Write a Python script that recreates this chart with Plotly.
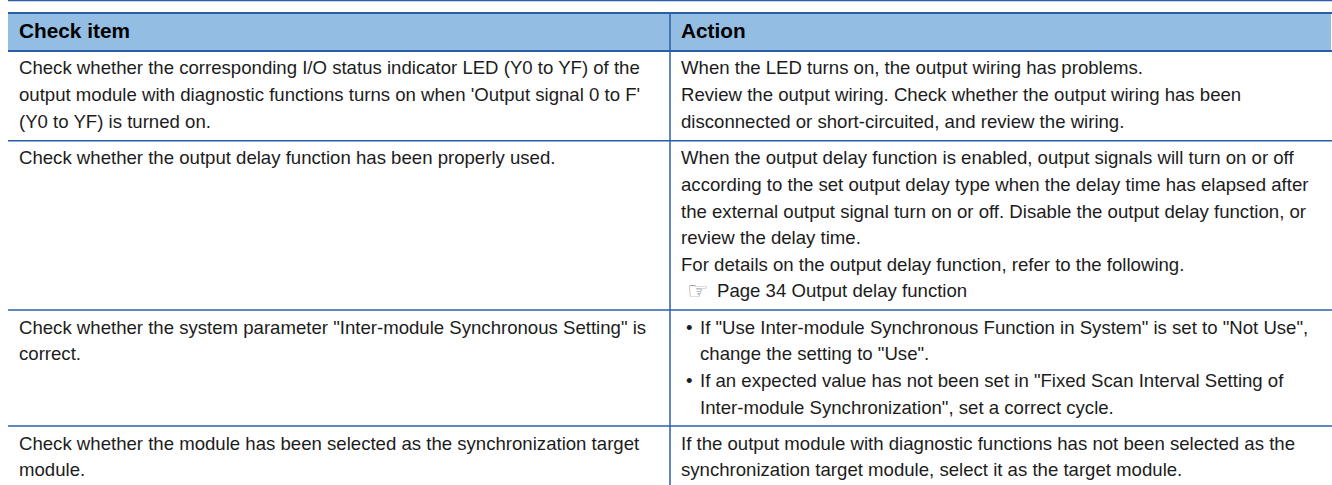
import plotly.graph_objects as go

W, H = 1332, 485

# ---- table content ----
headers = ["Check item", "Action"]
check_items = [
    ["Check whether the corresponding I/O status indicator LED (Y0 to YF) of the",
     "output module with diagnostic functions turns on when 'Output signal 0 to F'",
     "(Y0 to YF) is turned on."],
    ["Check whether the output delay function has been properly used."],
    ["Check whether the system parameter \"Inter-module Synchronous Setting\" is",
     "correct."],
    ["Check whether the module has been selected as the synchronization target",
     "module."],
]
actions = [
    ["When the LED turns on, the output wiring has problems.",
     "Review the output wiring. Check whether the output wiring has been",
     "disconnected or short-circuited, and review the wiring."],
    ["When the output delay function is enabled, output signals will turn on or off",
     "according to the set output delay type when the delay time has elapsed after",
     "the external output signal turn on or off. Disable the output delay function, or",
     "review the delay time.",
     "For details on the output delay function, refer to the following."],
    [],
    ["If the output module with diagnostic functions has not been selected as the",
     "synchronization target module, select it as the target module."],
]
link_text = "Page 34 Output delay function"
bullets = [
    ["If \"Use Inter-module Synchronous Function in System\" is set to \"Not Use\",",
     "change the setting to \"Use\"."],
    ["If an expected value has not been set in \"Fixed Scan Interval Setting of",
     "Inter-module Synchronization\", set a correct cycle."],
]

# ---- geometry & style ----
BLUE, HEAD, INK, GREY = "#2b5ea8", "#93bde3", "#1c1c1c", "#8a8a8a"
FONT = "Liberation Sans"
SIZE = 18.6
LEAD = 26.6
X_L, X_D, X_R = 8, 670, 1331
X1, X2 = 19, 680.5
row_tops = [50.7, 140.7, 310, 426]
first_text_offset = 17.2

fig = go.Figure()
fig.update_layout(
    width=W, height=H, margin=dict(l=0, r=0, t=0, b=0),
    xaxis=dict(range=[0, W], visible=False, fixedrange=True),
    yaxis=dict(range=[H, 0], visible=False, fixedrange=True),
    paper_bgcolor="white", plot_bgcolor="white", showlegend=False,
)
fig.add_trace(go.Scatter(x=[0], y=[0], mode="markers", marker=dict(opacity=0), hoverinfo="skip"))


def rule(x0, y0, x1, y1, width):
    fig.add_shape(type="line", x0=x0, y0=y0, x1=x1, y1=y1, line=dict(color=BLUE, width=width))


def text(x, y, s, bold=False, color=INK, size=SIZE, family=FONT):
    fig.add_annotation(x=x, y=y, text=f"<b>{s}</b>" if bold else s, showarrow=False,
                       xanchor="left", yanchor="middle", align="left",
                       borderpad=0, borderwidth=0,
                       font=dict(family=family, size=size, color=color))


# header band
fig.add_shape(type="rect", x0=X_L, x1=X_R, y0=12.7, y1=50.7, fillcolor=HEAD, line_width=0, layer="below")
rule(X_L, 0.5, W, 0.5, 1.3)
rule(X_L, 13, W, 13, 2)
rule(X_L, 51, W, 51, 2)
for y in row_tops[1:]:
    rule(X_L, y, W, y, 1.5)
rule(X_D, 13, X_D, H, 1.5)

text(X1, 30, headers[0], bold=True, size=20.8, color="#000000")
text(X2, 30, headers[1], bold=True, size=20.8, color="#000000")

for top, lines in zip(row_tops, check_items):
    for i, s in enumerate(lines):
        text(X1, top + first_text_offset + i * LEAD, s)

for top, lines in zip(row_tops, actions):
    for i, s in enumerate(lines):
        text(X2, top + first_text_offset + i * LEAD, s)

# cross-reference line (row 2, sixth line)
y_link = row_tops[1] + first_text_offset + 5 * LEAD
text(687, y_link + 0.5, "\u261e", color=GREY, size=24, family="DejaVu Sans")
text(717, y_link, link_text)

# bulleted row
for b, block in enumerate(bullets):
    y0 = row_tops[2] + first_text_offset + b * 2 * LEAD
    text(686, y0, "\u2022", size=SIZE)
    for i, s in enumerate(block):
        text(699.5, y0 + i * LEAD, s)

fig.write_html("out.html", post_script="document.body.style.margin='0';", config={"displayModeBar": False})
